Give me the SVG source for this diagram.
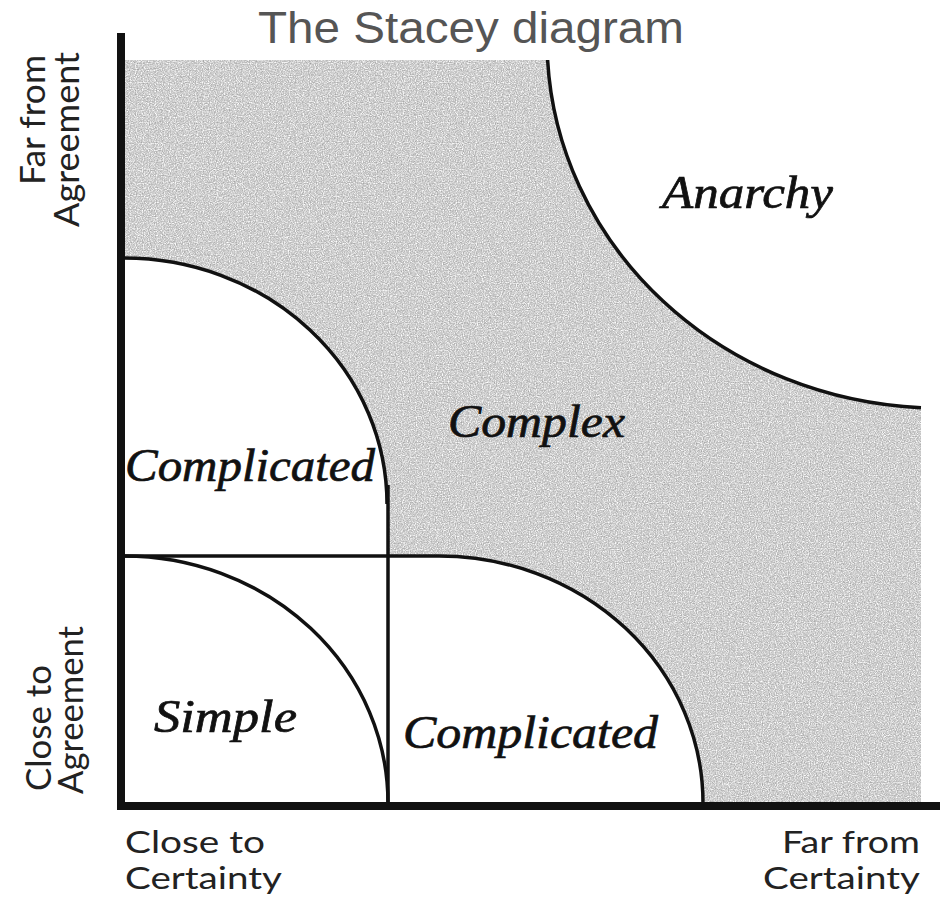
<svg xmlns="http://www.w3.org/2000/svg" width="945" height="899" viewBox="0 0 945 899">
  <style>
    .bg { fill: #ffffff; }
    .grey { fill: #c6c6c6; }
    .white { fill: #ffffff; }
    .edge { fill: none; stroke: #111111; stroke-width: 3.5; }
    .axis { fill: none; stroke: #111111; stroke-width: 8; }
    .title { font-family: "Liberation Sans", Arial, sans-serif; font-size: 44px; fill: #555555; }
    .ax { font-family: Lato, "Open Sans", sans-serif; font-size: 31px; fill: #222222; }
    .axr { font-family: Lato, "Open Sans", sans-serif; font-size: 34px; fill: #222222; }
    .zone { font-family: "Liberation Serif", "Times New Roman", serif; font-style: italic; font-size: 46px; fill: #111111; stroke: #111111; stroke-width: 0.7; }
  </style>
  <defs>
    <filter id="speckle" x="0" y="0" width="100%" height="100%" color-interpolation-filters="sRGB">
      <feTurbulence type="fractalNoise" baseFrequency="0.85" numOctaves="2" seed="7" result="noise"/>
      <feColorMatrix in="noise" type="matrix" values="0 0 0 0 1  0 0 0 0 1  0 0 0 0 1  0 0 0 -2.6 1.45" result="light"/>
      <feColorMatrix in="noise" type="matrix" values="0 0 0 0 0.55  0 0 0 0 0.55  0 0 0 0 0.55  0 0 0 2.0 -1.15" result="dark"/>
      <feMerge result="dots"><feMergeNode in="light"/><feMergeNode in="dark"/></feMerge>
      <feComposite in="dots" in2="SourceGraphic" operator="in" result="clipped"/>
      <feMerge><feMergeNode in="SourceGraphic"/><feMergeNode in="clipped"/></feMerge>
    </filter>
  </defs>
  <rect class="bg" x="0" y="0" width="945" height="899"/>

  <g id="title">
    <text class="title" x="258" y="43" textLength="426" lengthAdjust="spacingAndGlyphs">The Stacey diagram</text>
  </g>

  <g id="regions">
    <rect id="complex-area" class="grey" x="124" y="60" width="797" height="743" filter="url(#speckle)"/>
    <path id="anarchy-area" class="white" d="M547.6,60 A393,368 0 0 0 921,407.7 L921,60 Z"/>
    <path id="complicated-upper-area" class="white" d="M124,258 A263,246 0 0 1 387,504 L388,556 L124,556 Z"/>
    <rect id="simple-area" class="white" x="124" y="556" width="264" height="247"/>
    <path id="complicated-lower-area" class="white" d="M388,556 L439,556 A264,247 0 0 1 703,803 L388,803 Z"/>
  </g>

  <g id="connectors">
    <path class="edge" d="M547.6,60 A393,368 0 0 0 921,407.7"/>
    <path class="edge" d="M124,258 A263,246 0 0 1 387,504"/>
    <path class="edge" d="M388,485 L388,806"/>
    <path class="edge" d="M121,556 L439,556"/>
    <path class="edge" d="M124,556 A264,247 0 0 1 388,803"/>
    <path class="edge" d="M439,556 A264,247 0 0 1 703,803"/>
    <path class="axis" d="M121,33 L121,810"/>
    <path class="axis" d="M117,806 L940,806"/>
  </g>

  <g id="axis-labels">
    <g id="label-far-agreement">
      <text class="axr" transform="translate(45,55) rotate(-90)" text-anchor="end" textLength="130" lengthAdjust="spacingAndGlyphs">Far from</text>
      <text class="axr" transform="translate(79,52) rotate(-90)" text-anchor="end" textLength="175" lengthAdjust="spacingAndGlyphs">Agreement</text>
    </g>
    <g id="label-close-agreement">
      <text class="axr" transform="translate(51,791) rotate(-90)" textLength="126" lengthAdjust="spacingAndGlyphs">Close to</text>
      <text class="axr" transform="translate(83,794) rotate(-90)" textLength="168" lengthAdjust="spacingAndGlyphs">Agreement</text>
    </g>
    <g id="label-close-certainty">
      <text class="ax" x="125" y="853" textLength="140" lengthAdjust="spacingAndGlyphs">Close to</text>
      <text class="ax" x="125" y="889" textLength="157" lengthAdjust="spacingAndGlyphs">Certainty</text>
    </g>
    <g id="label-far-certainty">
      <text class="ax" x="782" y="853" textLength="138" lengthAdjust="spacingAndGlyphs">Far from</text>
      <text class="ax" x="763" y="889" textLength="157" lengthAdjust="spacingAndGlyphs">Certainty</text>
    </g>
  </g>

  <g id="node-anarchy"><text class="zone" x="662" y="208" textLength="171" lengthAdjust="spacingAndGlyphs">Anarchy</text></g>
  <g id="node-complex"><text class="zone" x="448" y="437" textLength="177" lengthAdjust="spacingAndGlyphs">Complex</text></g>
  <g id="node-complicated-upper"><text class="zone" x="125" y="481" textLength="250" lengthAdjust="spacingAndGlyphs">Complicated</text></g>
  <g id="node-simple"><text class="zone" x="154" y="732" textLength="143" lengthAdjust="spacingAndGlyphs">Simple</text></g>
  <g id="node-complicated-lower"><text class="zone" x="403" y="748" textLength="255" lengthAdjust="spacingAndGlyphs">Complicated</text></g>
</svg>
